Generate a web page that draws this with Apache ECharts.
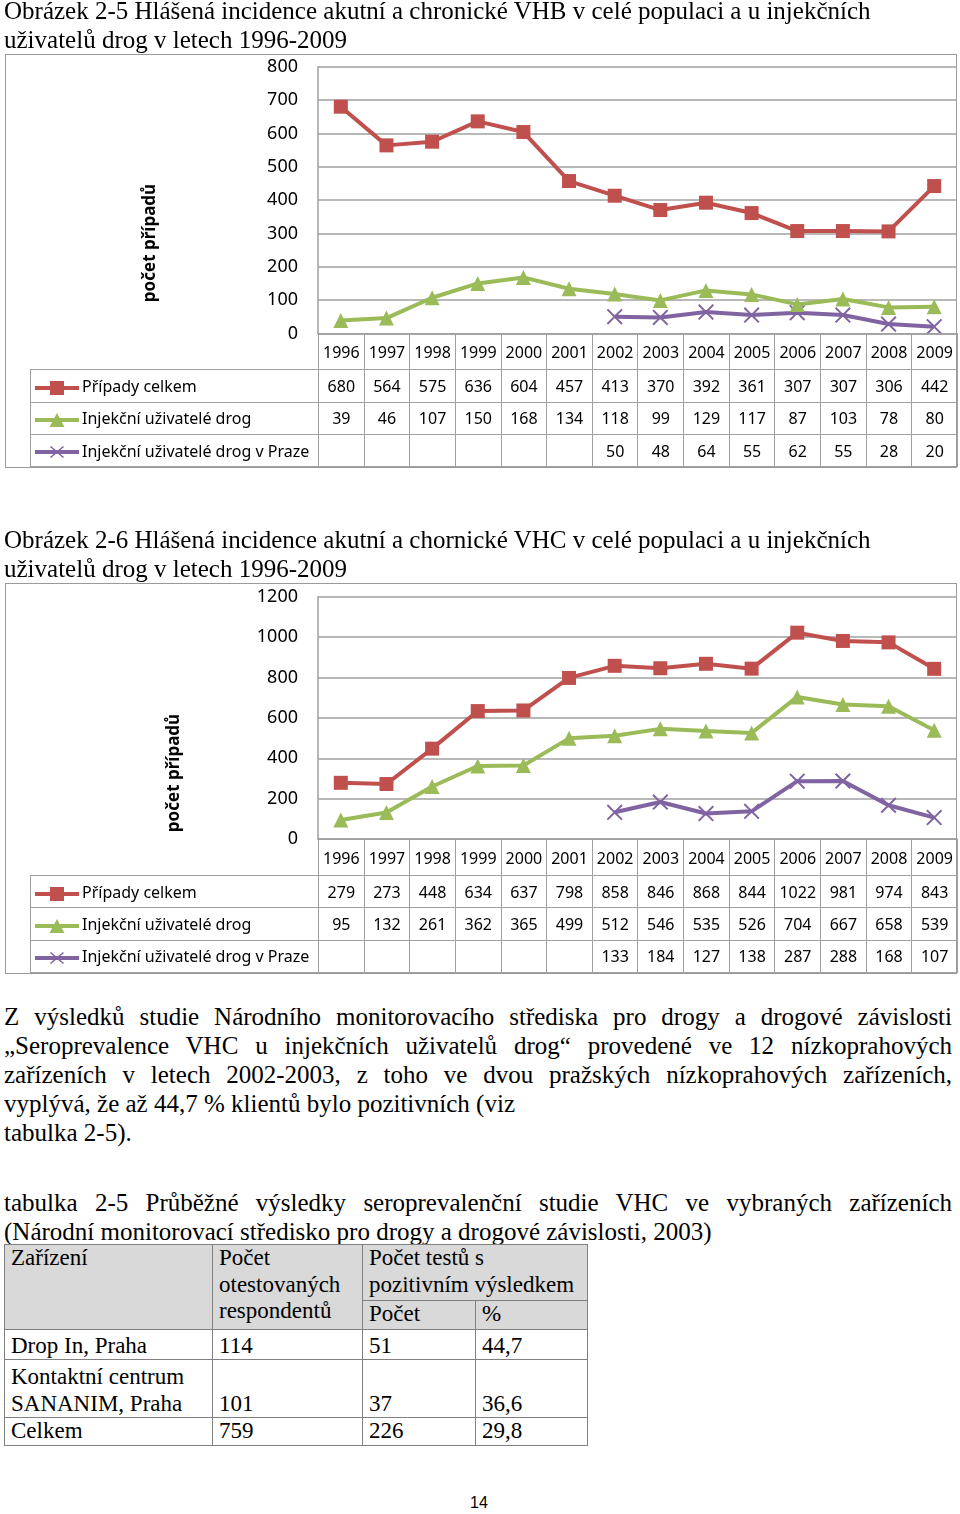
<!DOCTYPE html>
<html>
<head>
<meta charset="utf-8">
<script src="https://cdn.jsdelivr.net/npm/echarts@6/dist/echarts.min.js"></script>
<style>
  html, body { margin: 0; padding: 0; background: #fff; }
  #page { position: relative; width: 960px; height: 1514px; overflow: hidden; }
  #chart { position: absolute; left: 0; top: 0; width: 960px; height: 1000px; }
  .serif { font-family: "Liberation Serif", "Times New Roman", serif; color: #000; }
  .title { position: absolute; left: 4px; width: 955px; font-size: 25px; line-height: 29px; white-space: nowrap; }
  .box { position: absolute; left: 5px; width: 952px; border: 1.5px solid #9a9a9a; box-sizing: border-box; pointer-events: none; }
  .ytitle { position: absolute; font-family: "Noto Sans", sans-serif; font-size: 17px; font-weight: bold; color: #000; white-space: nowrap; transform: translate(-50%, -50%) rotate(-90deg); }
  table.dt { position: absolute; border-collapse: collapse; table-layout: fixed; font-family: "Noto Sans", sans-serif; font-size: 16px; color: #000; }
  table.dt td { border: 1.5px solid #a0a0a0; text-align: center; padding: 0; white-space: nowrap; overflow: hidden; }
  table.dt td.blank { border: none; }
  table.dt td.leg { text-align: left; padding-left: 4px; }
  table.dt td.leg svg { vertical-align: middle; margin-right: 3px; }
  .para { position: absolute; left: 4px; width: 948px; font-size: 25px; line-height: 29px; }
  .para div { text-align: justify; text-align-last: justify; white-space: nowrap; }
  .para div.l { text-align: left; text-align-last: left; }
  table.st { position: absolute; left: 4px; top: 1244px; border-collapse: collapse; table-layout: fixed; font-size: 23px; line-height: 26.5px; }
  table.st td { border: 1.5px solid #808080; padding: 0 0 0 6px; vertical-align: bottom; white-space: nowrap; }
  table.st td.h { background: #d9d9d9; vertical-align: top; }
  #pgnum { position: absolute; left: 0; width: 958px; top: 1494px; text-align: center; font-family: "Liberation Sans", Arial, sans-serif; font-size: 16px; }
</style>
</head>
<body>
<div id="page">
  <div id="chart"></div>

  <div class="title serif" style="top:-4px">Obrázek 2-5 Hlášená incidence akutní a chronické VHB v celé populaci a u injekčních<br>uživatelů drog v letech 1996-2009</div>
  <div class="box" style="top:54px; height:414px"></div>
  <div class="ytitle" id="yt1" style="left:148px; top:243px"></div>
  <table class="dt" id="dt1" style="left:30px; top:333.4px"></table>

  <div class="title serif" style="top:525px">Obrázek 2-6 Hlášená incidence akutní a chornické VHC v celé populaci a u injekčních<br>uživatelů drog v letech 1996-2009</div>
  <div class="box" style="top:583px; height:391px"></div>
  <div class="ytitle" id="yt2" style="left:172px; top:773px"></div>
  <table class="dt" id="dt2" style="left:30px; top:839.2px"></table>

  <div class="para serif" style="top:1002px">
    <div>Z výsledků studie Národního monitorovacího střediska pro drogy a drogové závislosti</div>
    <div>„Seroprevalence VHC u injekčních uživatelů drog“ provedené ve 12 nízkoprahových</div>
    <div>zařízeních v letech 2002-2003, z toho ve dvou pražských nízkoprahových zařízeních,</div>
    <div class="l">vyplývá, že až 44,7 % klientů bylo pozitivních (viz</div>
    <div class="l">tabulka 2-5).</div>
  </div>

  <div class="para serif" style="top:1188px">
    <div>tabulka 2-5 Průběžné výsledky seroprevalenční studie VHC ve vybraných zařízeních</div>
    <div class="l">(Národní monitorovací středisko pro drogy a drogové závislosti, 2003)</div>
  </div>

  <table class="st serif" id="st"></table>

  <div id="pgnum">14</div>
</div>

<script>
// ---------- DATA ----------
const years = ['1996','1997','1998','1999','2000','2001','2002','2003','2004','2005','2006','2007','2008','2009'];
const seriesNames = ['Případy celkem', 'Injekční uživatelé drog', 'Injekční uživatelé drog v Praze'];

// Obrázek 2-5 (VHB)
const vhbTotal  = [680, 564, 575, 636, 604, 457, 413, 370, 392, 361, 307, 307, 306, 442];
const vhbIdu    = [39, 46, 107, 150, 168, 134, 118, 99, 129, 117, 87, 103, 78, 80];
const vhbPrague = [null, null, null, null, null, null, 50, 48, 64, 55, 62, 55, 28, 20];

// Obrázek 2-6 (VHC)
const vhcTotal  = [279, 273, 448, 634, 637, 798, 858, 846, 868, 844, 1022, 981, 974, 843];
const vhcIdu    = [95, 132, 261, 362, 365, 499, 512, 546, 535, 526, 704, 667, 658, 539];
const vhcPrague = [null, null, null, null, null, null, 133, 184, 127, 138, 287, 288, 168, 107];

const yAxisTitle = 'počet případů';

// tabulka 2-5
const facilities = ['Drop In, Praha', 'Kontaktní centrum<br>SANANIM, Praha', 'Celkem'];
const testedCounts = ['114', '101', '759'];
const positiveCounts = ['51', '37', '226'];
const positivePercents = ['44,7', '36,6', '29,8'];

// ---------- STYLE ----------
const colors = ['#C0504D', '#9BBB59', '#8064A2'];
const xPath = 'path://M0,1.3L1.3,0L7.5,6.2L13.7,0L15,1.3L8.8,7.5L15,13.7L13.7,15L7.5,8.8L1.3,15L0,13.7L6.2,7.5Z';
const symbols = ['rect', 'triangle', xPath];
const symbolSizes = [14, 15, 16];
const gridColor = '#a0a0a0';
const sansFont = '"Noto Sans", sans-serif';

document.getElementById('yt1').textContent = yAxisTitle;
document.getElementById('yt2').textContent = yAxisTitle;

function makeSeries(data, idx, axisIdx) {
  return {
    name: seriesNames[idx], type: 'line', data: data,
    xAxisIndex: axisIdx, yAxisIndex: axisIdx,
    symbol: symbols[idx], symbolSize: symbolSizes[idx], showSymbol: true,
    lineStyle: { color: colors[idx], width: 4 },
    itemStyle: { color: colors[idx] },
    connectNulls: false, animation: false, z: 3 - idx + 2
  };
}

function xAxisDef(gi) {
  return {
    type: 'category', data: years, gridIndex: gi, boundaryGap: true,
    axisLine: { show: true, lineStyle: { color: gridColor, width: 1.5 } },
    axisTick: { show: false }, axisLabel: { show: false }, splitLine: { show: false }
  };
}
function yAxisDef(gi, max, interval) {
  return {
    type: 'value', gridIndex: gi, min: 0, max: max, interval: interval,
    axisLine: { show: true, lineStyle: { color: gridColor, width: 1.5 } },
    axisTick: { show: false },
    axisLabel: { fontFamily: sansFont, fontSize: 18, color: '#000', margin: 20, formatter: v => String(v) },
    splitLine: { show: true, lineStyle: { color: gridColor, width: 1.5 } }
  };
}

const chart = echarts.init(document.getElementById('chart'), null, { renderer: 'canvas' });
chart.setOption({
  animation: false,
  grid: [
    { left: 318, top: 66.7, width: 639, height: 266.7 },
    { left: 318, top: 596.7, width: 639, height: 242.5 }
  ],
  xAxis: [xAxisDef(0), xAxisDef(1)],
  yAxis: [yAxisDef(0, 800, 100), yAxisDef(1, 1200, 200)],
  series: [
    makeSeries(vhbTotal, 0, 0), makeSeries(vhbIdu, 1, 0), makeSeries(vhbPrague, 2, 0),
    makeSeries(vhcTotal, 0, 1), makeSeries(vhcIdu, 1, 1), makeSeries(vhcPrague, 2, 1)
  ]
});

// ---------- data tables under charts ----------
function legendIcon(idx) {
  const c = colors[idx];
  let m = '';
  if (idx === 0) m = `<rect x="15" y="1" width="14" height="14" fill="${c}"/>`;
  else if (idx === 1) m = `<polygon points="22,1 29.5,15 14.5,15" fill="${c}"/>`;
  else m = `<path d="M15.5,2.5L28.5,13.5M28.5,2.5L15.5,13.5" stroke="${c}" stroke-width="1.6"/>`;
  return `<svg width="44" height="16"><line x1="0" y1="8" x2="44" y2="8" stroke="${c}" stroke-width="4"/>${m}</svg>`;
}
function buildDataTable(id, rows) {
  const colW = 639 / years.length;
  let h = '<colgroup><col style="width:288px">' + years.map(() => `<col style="width:${colW}px">`).join('') + '</colgroup>';
  h += '<tr style="height:36px"><td class="blank"></td>' + years.map(y => `<td>${y}</td>`).join('') + '</tr>';
  rows.forEach((r, i) => {
    h += `<tr style="height:32.3px"><td class="leg">${legendIcon(i)}${seriesNames[i]}</td>` +
      r.map(v => `<td>${v == null ? '' : v}</td>`).join('') + '</tr>';
  });
  document.getElementById(id).innerHTML = h;
}
buildDataTable('dt1', [vhbTotal, vhbIdu, vhbPrague]);
buildDataTable('dt2', [vhcTotal, vhcIdu, vhcPrague]);

// ---------- seroprevalence table ----------
(function () {
  let h = '<colgroup><col style="width:208px"><col style="width:150px"><col style="width:113px"><col style="width:112px"></colgroup>';
  h += '<tr style="height:56px"><td class="h" rowspan="2">Zařízení</td><td class="h" rowspan="2">Počet<br>otestovaných<br>respondentů</td><td class="h" colspan="2">Počet testů s<br>pozitivním výsledkem</td></tr>';
  h += '<tr style="height:29px"><td class="h">Počet</td><td class="h">%</td></tr>';
  const heights = [30, 58, 25];
  facilities.forEach((f, i) => {
    h += `<tr style="height:${heights[i]}px"><td>${f}</td><td>${testedCounts[i]}</td><td>${positiveCounts[i]}</td><td>${positivePercents[i]}</td></tr>`;
  });
  document.getElementById('st').innerHTML = h;
})();
</script>
</body>
</html>
